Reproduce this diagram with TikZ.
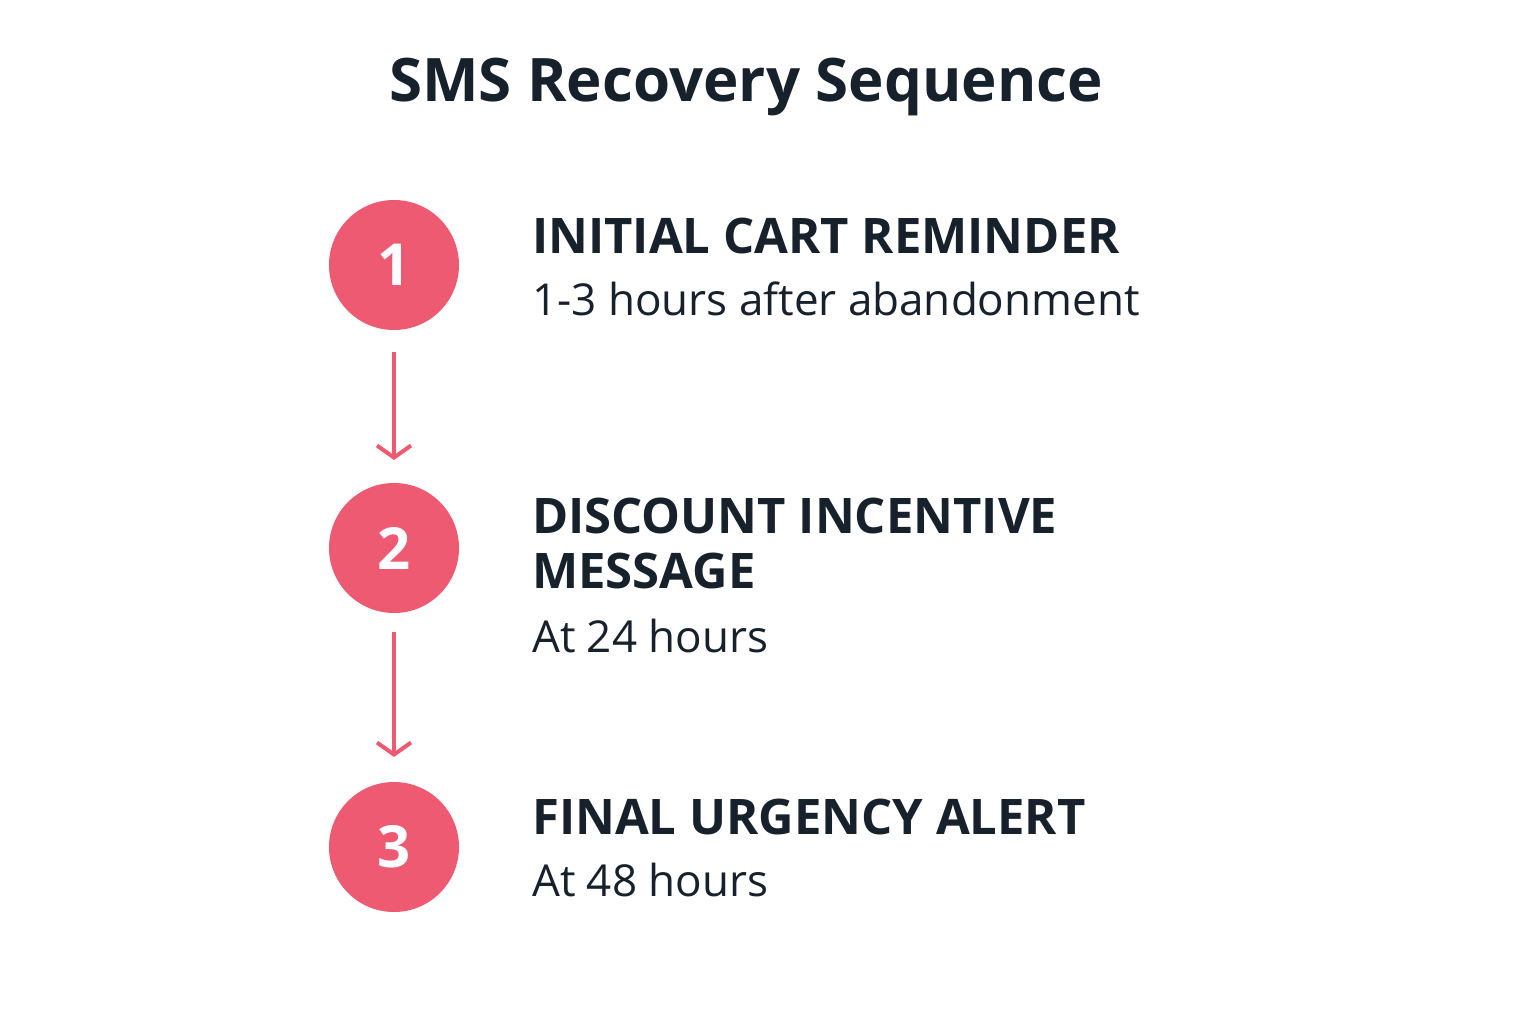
\documentclass[tikz,border=0pt]{standalone}
\usepackage{fontspec}
\setmainfont{Open Sans}
\usetikzlibrary{arrows.meta}
\definecolor{pk}{HTML}{EE5A72}
\definecolor{ink}{HTML}{17212B}
\tikzset{
 num/.style={circle,fill=pk,minimum size=130pt,inner sep=0pt,text=white,font=\fontsize{58}{60}\selectfont\bfseries},
 head/.style={anchor=base west,inner sep=0pt,text=ink,font=\fontsize{49}{56}\selectfont\bfseries,align=left},
 sub/.style={anchor=base west,inner sep=0pt,text=ink,font=\fontsize{44}{50}\selectfont},
 arr/.style={draw=pk,line width=4pt,-{Straight Barb[length=12pt,width=34pt,line width=4pt]}}
}
\begin{document}
\begin{tikzpicture}[x=1pt,y=-1pt]
\useasboundingbox (0,0) rectangle (1536,1024);
\node[text=ink,font=\fontsize{60}{64}\selectfont\bfseries,anchor=base,inner sep=0pt] (title) at (746,102) {SMS Recovery Sequence};
\node[num] (c1) at (394,265) {1};
\node[num] (c2) at (394,548) {2};
\node[num] (c3) at (394,847) {3};
\coordinate (a1s) at (394,352); \coordinate (a1e) at (394,460);
\coordinate (a2s) at (394,632); \coordinate (a2e) at (394,757);
\draw[arr] (a1s) -- (a1e);
\draw[arr] (a2s) -- (a2e);
\node[head] (h1) at (532,254) {INITIAL CART REMINDER};
\node[sub] (s1) at (532,315) {1-3 hours after abandonment};
\node[head] (h2) at (532,533) {DISCOUNT INCENTIVE};
\node[head] (h2b) at (532,588) {MESSAGE};
\node[sub] (s2) at (532,652) {At 24 hours};
\node[head] (h3) at (532,834) {FINAL URGENCY ALERT};
\node[sub] (s3) at (532,896) {At 48 hours};
\end{tikzpicture}
\end{document}
